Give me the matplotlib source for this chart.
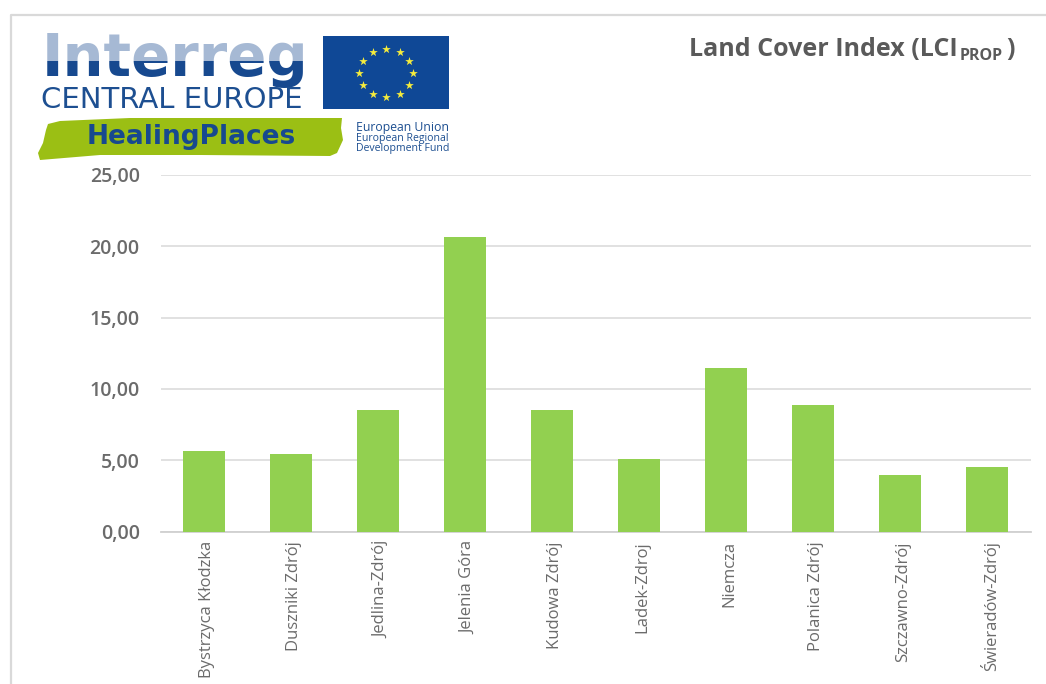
import matplotlib
matplotlib.use("Agg")
import matplotlib.pyplot as plt
from matplotlib.patches import Rectangle, Polygon
from matplotlib.lines import Line2D
from matplotlib.transforms import ScaledTranslation
import numpy as np

municipalities = ["Bystrzyca Kłodzka", "Duszniki Zdrój", "Jedlina-Zdrój", "Jelenia Góra",
                  "Kudowa Zdrój", "Ladek-Zdroj", "Niemcza", "Polanica Zdrój",
                  "Szczawno-Zdrój", "Świeradów-Zdrój"]
lci_prop = [5.65, 5.45, 8.50, 20.65, 8.50, 5.10, 11.45, 8.90, 3.95, 4.55]
y_ticks = [0, 5, 10, 15, 20, 25]

W, H = 1046, 684
GREY = "#6b6b6b"
plt.rcParams["font.family"] = ["Open Sans", "DejaVu Sans"]

fig = plt.figure(figsize=(W / 100, H / 100), dpi=100, facecolor="white")

# Bar chart
ax = fig.add_axes([160.5 / W, 1 - 531.5 / H, 870 / W, 356.5 / H])
x = np.arange(len(municipalities))
ax.bar(x, lci_prop, width=0.49, color="#92d050", zorder=3)
ax.set_xlim(-0.5, len(municipalities) - 0.5)
ax.set_ylim(0, 25)
ax.set_yticks(y_ticks)
ax.set_yticklabels([f"{v:.2f}".replace(".", ",") for v in y_ticks],
                   fontsize=14, color=GREY, fontweight="semibold")
ax.set_xticks(x)
ax.set_xticklabels(municipalities, rotation=90, fontsize=12, color=GREY)
ax.tick_params(axis="both", length=0)
ax.tick_params(axis="x", pad=7)
ax.tick_params(axis="y", pad=15)
shift = ScaledTranslation(3 / 100, 0, fig.dpi_scale_trans)
for label in ax.get_xticklabels():
    label.set_transform(label.get_transform() + shift)
ax.grid(axis="y", color="#dedede", linewidth=1.3, zorder=0)
for name, spine in ax.spines.items():
    spine.set_visible(name == "bottom")
ax.spines["bottom"].set_color("#d0d0d0")
ax.spines["bottom"].set_linewidth(1.3)

# Overlay in pixel coordinates for the panel frame, title and logo block
ov = fig.add_axes([0, 0, 1, 1], zorder=5)
ov.set_xlim(0, W)
ov.set_ylim(H, 0)
ov.axis("off")
ov.patch.set_alpha(0)

ov.add_line(Line2D([11, 11, W], [H, 15, 15], color="#d9d9d9", linewidth=1.6))

ov.text(689, 50, "Land Cover Index (LCI", fontsize=18, fontweight="bold", color="#5a5a5a",
        va="center", ha="left")
ov.text(960, 56, "PROP", fontsize=11.5, fontweight="bold", color="#5a5a5a", va="center", ha="left")
ov.text(1006, 50, ")", fontsize=18, fontweight="bold", color="#5a5a5a", va="center", ha="left")

# Wordmark: dark lettering with a translucent white band lightening its upper half
DARK = "#17498f"
ov.text(42, 76, "Interreg", fontsize=41.5, fontweight="bold", color=DARK,
        family="DejaVu Sans", va="baseline", ha="left")
ov.add_patch(Rectangle((38, 30), 275, 31, facecolor="white", alpha=0.62, edgecolor="none", zorder=4))

ov.text(41, 108, "CENTRAL EUROPE", fontsize=21, color="#1d4f91", family="DejaVu Sans",
        va="baseline", ha="left")

# Green brush stroke
stroke = [(48, 124), (60, 121), (130, 118), (342, 118), (341, 128), (343, 140), (337, 153),
          (330, 156), (200, 155), (100, 155), (40, 160), (38, 153), (43, 143), (46, 130)]
ov.add_patch(Polygon(stroke, closed=True, facecolor="#9bbf14", edgecolor="none"))
ov.text(191, 137, "HealingPlaces", fontsize=19, fontweight="bold", color="#17498f",
        family="DejaVu Sans", va="center", ha="center")

# EU flag
ov.add_patch(Rectangle((323, 36), 126, 73, facecolor="#0f4896", edgecolor="none"))
angles = np.deg2rad(np.arange(0, 360, 30))
ov.scatter(386 + 27 * np.cos(angles), 73 + 24 * np.sin(angles), marker="*", s=42,
           color="#f6ec3c", linewidths=0, zorder=6)

ov.text(356, 127, "European Union", fontsize=8.8, color="#1d4f91", va="center", ha="left")
ov.text(356, 138, "European Regional", fontsize=7.6, color="#1d4f91", va="center", ha="left")
ov.text(356, 149, "Development Fund", fontsize=7.55, color="#1d4f91", va="center", ha="left")

fig.savefig("out.png", dpi=100, facecolor="white")
